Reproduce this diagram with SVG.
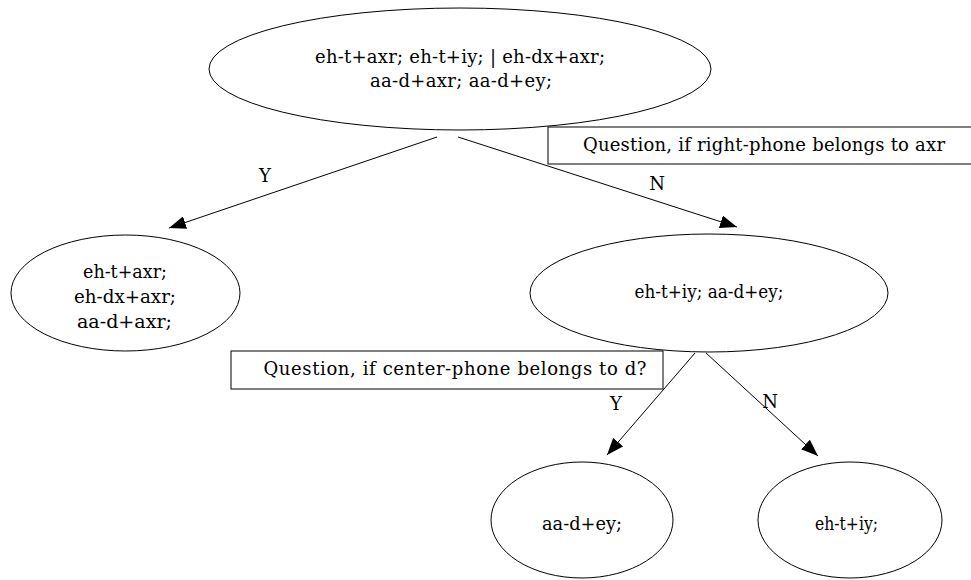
<svg xmlns="http://www.w3.org/2000/svg" width="971" height="580" viewBox="0 0 971 580">
  <style>
    .shape { fill: #ffffff; stroke: #000000; stroke-width: 1; }
    .edge { fill: none; stroke: #000000; stroke-width: 1; }
    text { font-family: "DejaVu Serif", "Liberation Serif", serif; font-size: 18px; fill: #000000; text-anchor: middle; }
  </style>
  <defs>
    <marker id="arrow" markerUnits="userSpaceOnUse" markerWidth="18" markerHeight="13" refX="17" refY="6.5" orient="auto">
      <path d="M0,0 L17,6.5 L0,13 z" fill="#000000"/>
    </marker>
  </defs>
  <rect x="0" y="0" width="971" height="580" fill="#ffffff"/>

  <!-- decision tree nodes -->
  <g id="root">
    <ellipse class="shape" cx="460" cy="69" rx="251" ry="61"/>
    <text x="460" y="63" textLength="290" lengthAdjust="spacing">eh-t+axr; eh-t+iy; | eh-dx+axr;</text>
    <text x="461" y="87" textLength="182" lengthAdjust="spacing">aa-d+axr; aa-d+ey;</text>
  </g>

  <g id="question-axr">
    <rect class="shape" x="548" y="127" width="430" height="37"/>
    <text x="764" y="151" textLength="362" lengthAdjust="spacing">Question, if right-phone belongs to axr</text>
  </g>

  <g id="yes-axr">
    <ellipse class="shape" cx="125.5" cy="293" rx="114.5" ry="58"/>
    <text x="125" y="278" textLength="84" lengthAdjust="spacingAndGlyphs">eh-t+axr;</text>
    <text x="125" y="303" textLength="102" lengthAdjust="spacingAndGlyphs">eh-dx+axr;</text>
    <text x="124.5" y="328" textLength="95" lengthAdjust="spacingAndGlyphs">aa-d+axr;</text>
  </g>

  <g id="no-axr">
    <ellipse class="shape" cx="709" cy="293" rx="179" ry="59"/>
    <text x="709" y="298" textLength="149" lengthAdjust="spacingAndGlyphs">eh-t+iy; aa-d+ey;</text>
  </g>

  <g id="question-d">
    <rect class="shape" x="231" y="351" width="432" height="38"/>
    <text x="455" y="375" textLength="383" lengthAdjust="spacing">Question, if center-phone belongs to d?</text>
  </g>

  <g id="yes-d">
    <ellipse class="shape" cx="582" cy="520" rx="91" ry="58"/>
    <text x="582" y="530" textLength="80" lengthAdjust="spacingAndGlyphs">aa-d+ey;</text>
  </g>

  <g id="no-d">
    <ellipse class="shape" cx="850" cy="520" rx="92" ry="58"/>
    <text x="846.5" y="530" textLength="63" lengthAdjust="spacingAndGlyphs">eh-t+iy;</text>
  </g>

  <!-- branches with Y/N answers -->
  <g id="connectors">
    <line class="edge" x1="437" y1="137" x2="169" y2="228" marker-end="url(#arrow)"/>
    <text x="265" y="182">Y</text>
    <line class="edge" x1="458" y1="137" x2="737" y2="227" marker-end="url(#arrow)"/>
    <text x="657" y="190">N</text>
    <line class="edge" x1="695" y1="353" x2="607" y2="455" marker-end="url(#arrow)"/>
    <text x="616" y="410">Y</text>
    <line class="edge" x1="706" y1="353" x2="818" y2="456" marker-end="url(#arrow)"/>
    <text x="770" y="408">N</text>
  </g>
</svg>
